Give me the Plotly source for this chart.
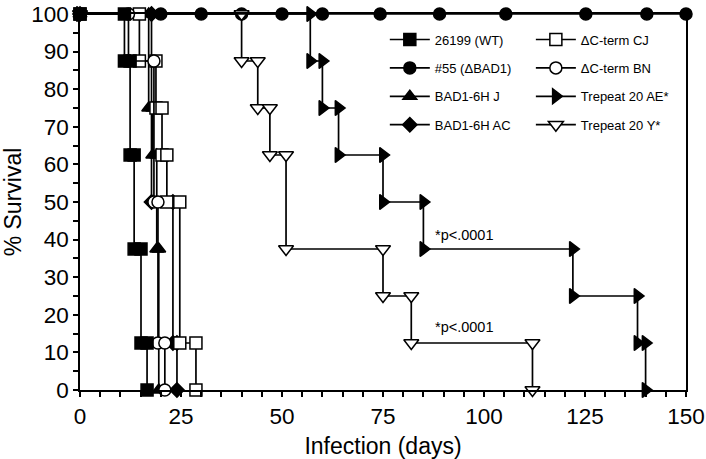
import plotly.graph_objects as go

# ---- data (days of each death event, survival level after the event) ----
wt_days = [11, 12.4, 13.4, 15.1, 16.6]
wt_surv = [87.5, 62.5, 37.5, 12.5, 0]

d55_days = [0, 20, 30, 40, 50, 60, 74.3, 89, 105.4, 125.2, 140.3, 150]   # all alive

j_days = [17, 18, 19, 19.5]
j_surv = [75, 62.5, 37.5, 0]

ac_days = [17.7, 23, 24]
ac_surv = [50, 12.5, 0]

cj_days = [14.7, 18.8, 20.3, 21.5, 24.7, 28.7]
cj_surv = [87.5, 75, 62.5, 50, 12.5, 0]

bn_days = [12, 18.3, 19.3, 21]
bn_surv = [87.5, 50, 12.5, 0]

ae_days = [57, 60, 64, 75, 85, 122, 138, 140]
ae_surv = [87.5, 75, 62.5, 50, 37.5, 25, 12.5, 0]

y_days = [40, 44, 47, 51, 75, 82, 112]
y_surv = [87.5, 75, 62.5, 37.5, 25, 12.5, 0]

x_ticks = [0, 25, 50, 75, 100, 125, 150]
y_ticks = [0, 10, 20, 30, 40, 50, 60, 70, 80, 90, 100]

annot_text = "*p<.0001"
annot_pos = [(87.4, 41.2), (87.4, 16.8)]


def km(days, surv):
    xs, ys = [0], [100]
    prev = 100
    for t, s in zip(days, surv):
        xs += [t, t]
        ys += [prev, s]
        prev = s
    return xs, ys


FONT = "Liberation Sans, Arial, Helvetica, sans-serif"
fig = go.Figure()


def add(name, xs, ys, symbol, fill, size, legend, rank):
    fig.add_trace(go.Scatter(
        x=xs, y=ys, name=name, mode="lines+markers",
        line=dict(color="black", width=1.7),
        marker=dict(symbol=symbol, size=size, color=fill,
                    line=dict(color="black", width=1.5)),
        cliponaxis=False, legend=legend, legendrank=rank,
        legendgroup=name,
    ))


add("#55 (ΔBAD1)", d55_days, [100] * len(d55_days), "circle", "black", 12, "legend", 2)
add("Trepeat 20 Y*", *km(y_days, y_surv), "triangle-down", "white", 13, "legend2", 4)
add("Trepeat 20 AE*", *km(ae_days, ae_surv), "triangle-right", "black", 13, "legend2", 3)
add("BAD1-6H AC", *km(ac_days, ac_surv), "diamond", "black", 11, "legend", 4)
add("BAD1-6H J", *km(j_days, j_surv), "triangle-up", "black", 12, "legend", 3)
add("ΔC-term CJ", *km(cj_days, cj_surv), "square", "white", 12, "legend2", 1)
add("ΔC-term BN", *km(bn_days, bn_surv), "circle", "white", 12, "legend2", 2)
add("26199 (WT)", *km(wt_days, wt_surv), "square", "black", 12, "legend", 1)

for (ax, ay) in annot_pos:
    fig.add_annotation(x=ax, y=ay, text=annot_text, showarrow=False,
                       xanchor="left", yanchor="middle",
                       font=dict(family=FONT, size=14.5, color="black"))

axis_common = dict(
    showgrid=False, zeroline=False, showline=True, linecolor="black",
    linewidth=1.5, mirror=True, ticks="outside", ticklen=5, tickwidth=1.5,
    tickcolor="black", tickfont=dict(family=FONT, size=22.5, color="black"),
    automargin=False,
)

fig.update_layout(
    width=706, height=459,
    margin=dict(l=80, r=20, t=14, b=69),
    paper_bgcolor="white", plot_bgcolor="white",
    font=dict(family=FONT, color="black"),
    xaxis=dict(range=[0, 150], tickvals=x_ticks,
               minor=dict(dtick=5, ticks="outside", ticklen=5, tickwidth=1.5, tickcolor="black"),
               title=dict(text="Infection (days)", font=dict(family=FONT, size=23), standoff=11),
               **axis_common),
    yaxis=dict(range=[0, 100], tickvals=y_ticks,
               minor=dict(dtick=5, ticks="outside", ticklen=5, tickwidth=1.5, tickcolor="black"),
               title=dict(text="% Survival", font=dict(family=FONT, size=23), standoff=10),
               **axis_common),
    legend=dict(x=0.503, y=0.972, xanchor="left", yanchor="top",
                bgcolor="rgba(0,0,0,0)", font=dict(family=FONT, size=13),
                traceorder="grouped", tracegroupgap=8.5, itemwidth=40),
    legend2=dict(x=0.744, y=0.972, xanchor="left", yanchor="top",
                 bgcolor="rgba(0,0,0,0)", font=dict(family=FONT, size=13),
                 traceorder="grouped", tracegroupgap=8.5, itemwidth=40),
    showlegend=True,
)

# remove the default 8px page margin so the 706x459 figure fills the window exactly
fig.write_html("out.html", config={"displayModeBar": False},
               post_script="document.body.style.margin='0px';")
